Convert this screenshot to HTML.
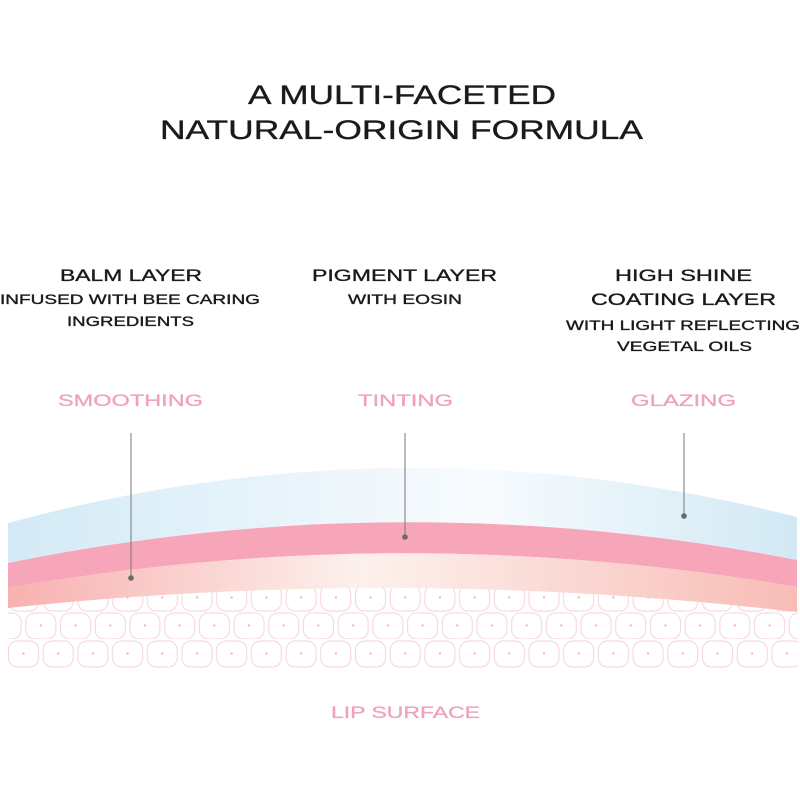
<!DOCTYPE html>
<html><head><meta charset="utf-8"><style>html,body{margin:0;padding:0;background:#fff}svg{display:block}</style></head>
<body>
<svg width="800" height="800" viewBox="0 0 800 800" xmlns="http://www.w3.org/2000/svg">
<defs>
<linearGradient id="gb" x1="0" x2="1" y1="0" y2="0">
<stop offset="0" stop-color="#d3eaf6"/><stop offset="0.6" stop-color="#f8fbfe"/><stop offset="1" stop-color="#d2e9f5"/></linearGradient>
<linearGradient id="gp" x1="0" x2="1" y1="0" y2="0">
<stop offset="0" stop-color="#f7b1b0"/><stop offset="0.45" stop-color="#fdf1ed"/><stop offset="1" stop-color="#f8bcb6"/></linearGradient>
<pattern id="cells" x="6" y="583" width="69.4" height="56" patternUnits="userSpaceOnUse">
<g fill="none" stroke="#f6d3d9" stroke-width="1">
<rect x="2.5" y="2" width="30" height="26" rx="9"/><rect x="37.2" y="2" width="30" height="26" rx="9"/>
<rect x="-14.85" y="30" width="30" height="26" rx="9"/><rect x="19.85" y="30" width="30" height="26" rx="9"/><rect x="54.55" y="30" width="30" height="26" rx="9"/>
</g>
<g fill="#f1b7c2"><circle cx="17.5" cy="14.5" r="1.2"/><circle cx="52.2" cy="14.5" r="1.2"/><circle cx="0.15" cy="42.5" r="1.2"/><circle cx="34.85" cy="42.5" r="1.2"/><circle cx="69.55" cy="42.5" r="1.2"/></g>
</pattern>
</defs>
<rect x="8" y="583" width="790" height="85" fill="url(#cells)"/>
<path d="M8 523 Q402 416 797 517 L797 560 Q402 483 8 563 Z" fill="url(#gb)"/>
<path d="M8 563 Q402 483 797 560 L797 587 Q402 519 8 588 Z" fill="#f7a5b8"/>
<path d="M8 588 Q402 519 797 587 L797 612 Q402 566 8 608 Z" fill="url(#gp)"/>
<g stroke="#777" stroke-width="1"><line x1="131" y1="433" x2="131" y2="578"/><line x1="405" y1="433" x2="405" y2="537"/><line x1="684" y1="433" x2="684" y2="516"/></g>
<g fill="#6b6b6b"><circle cx="131" cy="578" r="2.8"/><circle cx="405" cy="537" r="2.8"/><circle cx="684" cy="516" r="2.8"/></g>
<g font-family="Liberation Sans, sans-serif" fill="#1a1a1a" stroke="#1a1a1a" stroke-width="0.35">
<text x="248" y="104" font-size="27" textLength="308" lengthAdjust="spacingAndGlyphs">A MULTI-FACETED</text>
<text x="160" y="139" font-size="27" textLength="483" lengthAdjust="spacingAndGlyphs">NATURAL-ORIGIN FORMULA</text>
<text x="60" y="281" font-size="17" textLength="142" lengthAdjust="spacingAndGlyphs">BALM LAYER</text>
<text x="0" y="304" font-size="14" textLength="260" lengthAdjust="spacingAndGlyphs">INFUSED WITH BEE CARING</text>
<text x="67" y="326" font-size="14" textLength="127" lengthAdjust="spacingAndGlyphs">INGREDIENTS</text>
<text x="312" y="281" font-size="17" textLength="185" lengthAdjust="spacingAndGlyphs">PIGMENT LAYER</text>
<text x="348" y="304" font-size="14" textLength="114" lengthAdjust="spacingAndGlyphs">WITH EOSIN</text>
<text x="615" y="281" font-size="17" textLength="137" lengthAdjust="spacingAndGlyphs">HIGH SHINE</text>
<text x="591" y="305" font-size="17" textLength="185" lengthAdjust="spacingAndGlyphs">COATING LAYER</text>
<text x="566" y="330" font-size="14" textLength="234" lengthAdjust="spacingAndGlyphs">WITH LIGHT REFLECTING</text>
<text x="617" y="351" font-size="14" textLength="135" lengthAdjust="spacingAndGlyphs">VEGETAL OILS</text>
</g>
<g font-family="Liberation Sans, sans-serif" fill="#f0a3b8" stroke="#f0a3b8" stroke-width="0.3" font-size="17">
<text x="58" y="406" textLength="145" lengthAdjust="spacingAndGlyphs">SMOOTHING</text>
<text x="358" y="406" textLength="95" lengthAdjust="spacingAndGlyphs">TINTING</text>
<text x="631" y="406" textLength="105" lengthAdjust="spacingAndGlyphs">GLAZING</text>
<text x="331" y="718" textLength="149" lengthAdjust="spacingAndGlyphs">LIP SURFACE</text>
</g>
</svg>
</body></html>
